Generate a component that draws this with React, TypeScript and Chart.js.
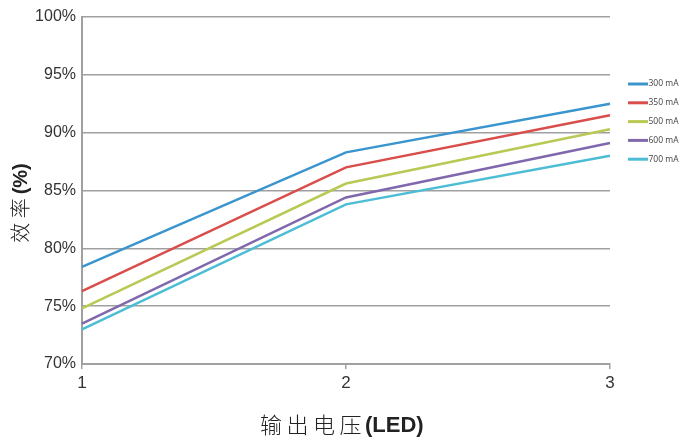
import React, { useEffect, useRef } from "react";
import { Chart, registerables } from "chart.js";

Chart.register(...registerables);

const categories = ["1", "2", "3"];
const seriesNames = ["300 mA", "350 mA", "500 mA", "600 mA", "700 mA"];
const s300 = [78.4, 88.3, 92.5];
const s350 = [76.3, 87.0, 91.5];
const s500 = [74.8, 85.6, 90.3];
const s600 = [73.5, 84.4, 89.1];
const s700 = [73.0, 83.8, 88.0];
const seriesColors = ["#3a95cf", "#d94d4b", "#b9c954", "#8068ad", "#4cbdd5"];
const yTicks = [70, 75, 80, 85, 90, 95, 100];

const TICK_FONT = "'Liberation Sans', Arial, sans-serif";

const customPlugin = {
  id: "custom",
  afterDraw(chart: any) {
    const ctx = chart.ctx;
    ctx.save();
    // legend
    chart.data.datasets.forEach((ds: any, i: number) => {
      const y = 84 + i * 18.8;
      ctx.strokeStyle = ds.borderColor;
      ctx.lineWidth = 3;
      ctx.beginPath();
      ctx.moveTo(628, y);
      ctx.lineTo(648, y);
      ctx.stroke();
      ctx.fillStyle = "#444";
      ctx.font = "8.5px 'Open Sans'";
      ctx.textAlign = "left";
      ctx.textBaseline = "middle";
      ctx.fillText(ds.label, 648.5, y);
    });
    // x title
    ctx.fillStyle = "#222";
    ctx.textBaseline = "middle";
    ctx.textAlign = "left";
    const cnChars = ["输", "出", "电", "压"];
    ctx.font = "300 22px 'Noto Sans CJK SC'";
    cnChars.forEach((c, i) => ctx.fillText(c, 260 + i * 26.5, 425));
    ctx.font = "bold 22px " + TICK_FONT;
    ctx.fillText("(LED)", 365, 426);
    // y title
    ctx.translate(20, 205);
    ctx.rotate(-Math.PI / 2);
    const cn2 = "效 率";
    const en2 = "(%)";
    ctx.font = "300 20px 'Noto Sans CJK SC'";
    const a1 = ctx.measureText(cn2).width;
    ctx.font = "bold 20px " + TICK_FONT;
    const a2 = ctx.measureText(en2).width;
    const s = -(a1 + a2) / 2;
    ctx.font = "300 20px 'Noto Sans CJK SC'";
    ctx.fillText(cn2, s, 0);
    ctx.font = "bold 20px " + TICK_FONT;
    ctx.fillText(en2, s + a1 + 4, 1);
    ctx.restore();
  },
};

export default function App() {
  const ref = useRef<HTMLCanvasElement | null>(null);
  useEffect(() => {
    if (!ref.current) return;
    const data = [s300, s350, s500, s600, s700];
    const chart = new Chart(ref.current, {
      type: "line",
      data: {
        labels: categories,
        datasets: data.map((d, i) => ({
          label: seriesNames[i],
          data: d,
          borderColor: seriesColors[i],
          backgroundColor: seriesColors[i],
          borderWidth: 2.5,
          pointRadius: 0,
          tension: 0,
        })),
      },
      options: {
        animation: false,
        responsive: true,
        maintainAspectRatio: false,
        layout: { padding: { left: 0, right: 71, top: 17, bottom: 0 } },
        plugins: { legend: { display: false }, tooltip: { enabled: false } },
        scales: {
          x: {
            type: "category",
            offset: false,
            grid: {
              drawOnChartArea: false,
              drawTicks: true,
              tickLength: 5,
              color: "#a0a0a0",
              lineWidth: 1.5,
            },
            border: { display: true, color: "#a0a0a0", width: 2 },
            ticks: {
              color: "#333",
              font: { family: TICK_FONT, size: 17 },
              padding: 4,
              maxRotation: 0,
            },
            afterFit(scale: any) {
              scale.height = 80;
            },
          },
          y: {
            min: 70,
            max: 100,
            afterBuildTicks(scale: any) {
              scale.ticks = yTicks.map((v) => ({ value: v }));
            },
            grid: {
              drawTicks: false,
              color: "#a0a0a0",
              lineWidth: 1.5,
            },
            border: { display: true, color: "#a0a0a0", width: 2 },
            ticks: {
              color: "#333",
              font: { family: TICK_FONT, size: 16 },
              padding: 6,
              callback: (v: any) => v + "%",
            },
            afterFit(scale: any) {
              scale.width = 82;
            },
          },
        },
      },
      plugins: [customPlugin],
    });
    return () => chart.destroy();
  }, []);
  return (
    <div style={{ position: "fixed", left: 0, top: 0, width: 681, height: 444, background: "#fff" }}>
      <canvas ref={ref} />
    </div>
  );
}
